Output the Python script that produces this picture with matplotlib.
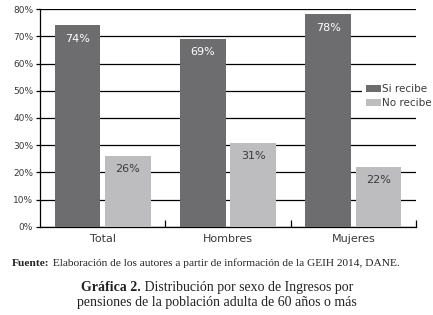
#!/usr/bin/env python3

import numpy as np
import matplotlib
matplotlib.use("Agg")
import matplotlib.pyplot as plt

categories = ["Total", "Hombres", "Mujeres"]
si_recibe = [74, 69, 78]
no_recibe = [26, 31, 22]
series_names = ["Si recibe", "No recibe"]
y_ticks = [0, 10, 20, 30, 40, 50, 60, 70, 80]

DARK = "#6d6d6f"
LIGHT = "#bdbdbf"
TEXT = "#3a3a3a"
SANS = ["DejaVu Sans"]
SERIF = ["Liberation Serif", "DejaVu Serif"]


def chained(fig, prev, s, **kw):
    # text that starts where the previous text ends
    return fig.text(0, 0, s, transform=None, **kw) if prev is None else \
        plt.gca().annotate(s, xy=(1, 0), xycoords=prev, va="bottom",
                           annotation_clip=False, **kw)


def main():
    fig = plt.figure(figsize=(4.33, 3.15), dpi=100)
    ax = fig.add_axes([0.0924, 0.2794, 0.8684, 0.692])

    x = np.arange(len(categories))
    w = 0.365
    b1 = ax.bar(x - 0.2, si_recibe, w, color=DARK, label=series_names[0], zorder=3)
    b2 = ax.bar(x + 0.2, no_recibe, w, color=LIGHT, label=series_names[1], zorder=3)

    for bars, vals, col in [(b1, si_recibe, "white"), (b2, no_recibe, TEXT)]:
        for bar, v in zip(bars, vals):
            ax.annotate(f"{v}%", (bar.get_x() + bar.get_width() / 2, v),
                        xytext=(0, -9.5), textcoords="offset points",
                        ha="center", va="center", color=col, fontsize=8,
                        family=SANS, zorder=4)

    ax.set_xlim(-0.5, 2.5)
    ax.set_ylim(0, 80)
    ax.set_yticks(y_ticks)
    ax.set_yticklabels([f"{t}%" for t in y_ticks], fontsize=6.5, color=TEXT,
                       family=SANS)
    ax.yaxis.grid(True, color="black", linewidth=0.9, zorder=0)
    ax.tick_params(axis="y", length=3, width=0.9, pad=2)

    ax.set_xticks([0.5, 1.5, 2.5])
    ax.set_xticklabels([])
    ax.tick_params(axis="x", direction="in", length=5, width=0.9)
    ax.set_xticks(x, minor=True)
    ax.set_xticklabels(categories, minor=True, fontsize=8, color=TEXT, family=SANS)
    ax.tick_params(axis="x", which="minor", length=0, pad=5)

    for s in ["top", "right"]:
        ax.spines[s].set_visible(False)
    for s in ["left", "bottom"]:
        ax.spines[s].set_linewidth(0.9)

    leg = ax.legend(loc="center left", bbox_to_anchor=(0.855, 0.6),
                    frameon=True, fancybox=False, edgecolor="none",
                    facecolor="white", framealpha=1, fontsize=7.5,
                    handlelength=1.45, handleheight=0.7, handletextpad=0.15,
                    labelspacing=0.35, borderpad=0.4, borderaxespad=0)
    leg.set_zorder(5)
    for t in leg.get_texts():
        t.set_color(TEXT)

    ink = "#222222"
    src = fig.text(12 / 433, 0.165, "Fuente:", fontsize=8.2, fontweight="bold",
                   family=SERIF, color=ink, va="center")
    ax.annotate(" Elaboración de los autores a partir de información de la GEIH 2014, DANE.",
                xy=(1, 0), xycoords=src, va="bottom", fontsize=8.2,
                family=SERIF, color=ink, annotation_clip=False)

    cap = fig.text(81 / 433, 0.086, "Gráfica 2.", fontsize=10, fontweight="bold",
                   family=SERIF, color=ink, va="center")
    ax.annotate(" Distribución por sexo de Ingresos por", xy=(1, 0), xycoords=cap,
                va="bottom", fontsize=10, family=SERIF, color=ink,
                annotation_clip=False)
    fig.text(0.5, 0.041, "pensiones de la población adulta de 60 años o más",
             ha="center", va="center", fontsize=10, family=SERIF, color=ink)

    fig.savefig("out.png", dpi=100)


if __name__ == "__main__":
    main()
